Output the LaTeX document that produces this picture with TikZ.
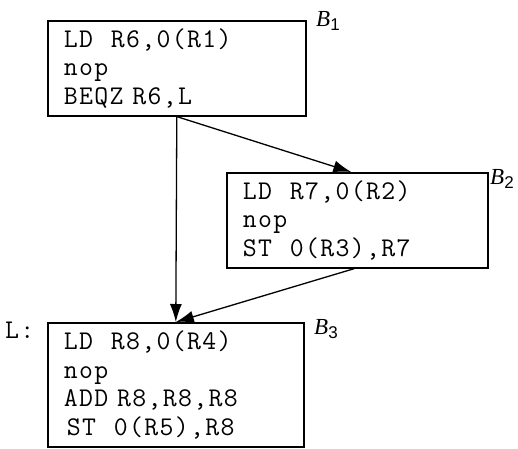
\documentclass[tikz,border=0pt]{standalone}
\usepackage{fontspec}
\setmainfont{Liberation Serif}
\setsansfont{Liberation Sans}
\setmonofont[LetterSpace=5]{Latin Modern Mono}
\usetikzlibrary{arrows.meta}
\begin{document}
\begin{tikzpicture}[x=1pt,y=-1pt,
  block/.style={draw, line width=1.6pt, anchor=north west, inner xsep=16pt, inner ysep=0pt,
    align=left, font=\ttfamily\fontsize{27}{28.5}\selectfont},
  lbl/.style={font=\fontsize{23}{26}\selectfont, anchor=base west, inner sep=0pt},
  flow/.style={line width=1.3pt, -{Latex[length=18pt,width=12pt]}}]
\useasboundingbox (0,0) rectangle (518,448);
\newcommand\blab[1]{\textit{B}\raisebox{-4pt}{\sffamily\fontsize{17}{17}\selectfont #1}}
\node[block, minimum width=258pt, minimum height=95pt, text width=226pt] (b1) at (47,20)
  {LD\ \ R6,0(R1)\\nop\\BEQZ R6,L};
\node[block, minimum width=261pt, minimum height=95pt, text width=229pt] (b2) at (226,172)
  {LD\ \ R7,0(R2)\\nop\\ST\ \ 0(R3),R7};
\node[block, minimum width=256pt, minimum height=124pt, text width=224pt] (b3) at (47,322)
  {LD\ \ R8,0(R4)\\nop\\ADD R8,R8,R8\\\hspace*{3pt}ST\ \ 0(R5),R8};
\node[lbl] (l1) at (316,26) {\blab{1}};
\node[lbl] (l2) at (490,184) {\blab{2}};
\node[lbl] (l3) at (314,334) {\blab{3}};
\node[font=\ttfamily\fontsize{27}{28.5}\selectfont, anchor=base west, inner sep=0pt] (lab) at (5,338) {L:};
\draw[flow] (b1.south) -- (b3.north);
\draw[flow] (b1.south) -- ([xshift=-6pt]b2.north);
\draw[flow] ([xshift=-3pt]b2.south) -- (b3.north);
\end{tikzpicture}
\end{document}
